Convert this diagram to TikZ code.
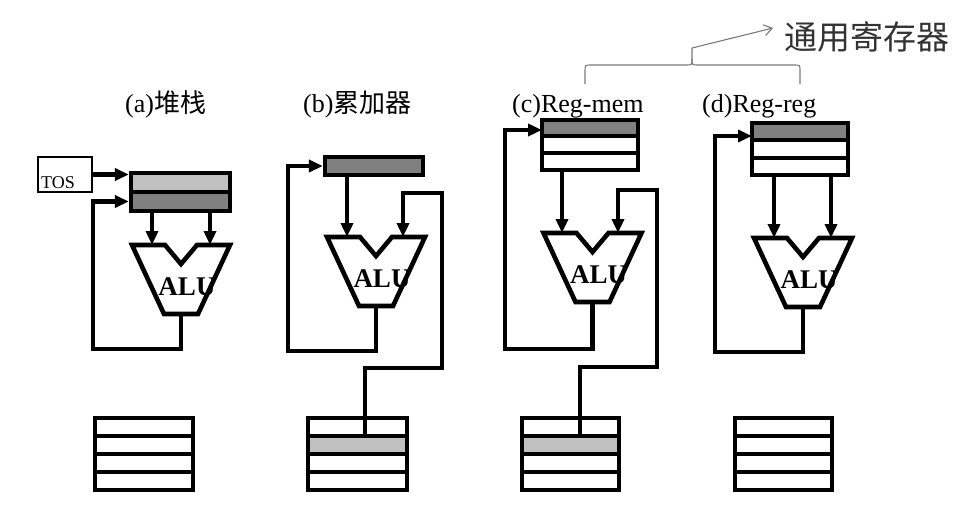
\documentclass[tikz,border=0pt]{standalone}
\usepackage{fontspec}
\setmainfont{Liberation Serif}
\newfontfamily\cjk{Noto Sans CJK SC}
\usetikzlibrary{arrows.meta}
\definecolor{lg}{HTML}{C0C0C0}
\definecolor{dg}{HTML}{808080}
\definecolor{bracegray}{HTML}{7A7A7A}
\tikzset{
  wire/.style={line width=4.6pt},
  arr/.style={line width=4.6pt, -{Triangle[length=14pt,width=12pt]}},
  cellbox/.style={draw, line width=4.3pt, inner sep=0pt},
  lab/.style={anchor=base west, inner sep=0pt, font=\fontsize{26}{26}\selectfont},
  alutext/.style={anchor=base, inner sep=0pt, font=\fontsize{27}{27}\selectfont\bfseries},
  bracestyle/.style={draw=bracegray, line width=1.1pt},
}
% cell: name, x1, y1, x2, y2, fill
\newcommand\mycell[6]{%
  \node[cellbox, fill=#6, minimum width={(#4-#2)*1pt}, minimum height={(#5-#3)*1pt}]
    (#1) at ({(#2+#4)/2},{(#3+#5)/2}) {};}
% alu: name, cx, top, left input offset, right input offset
\newcommand\myalu[5]{%
  \node[alutext] (#1t) at ({#2+6},{#3+50}) {ALU};
  \draw[wire] ({#2-49},#3) -- ({#2-16},#3) -- (#2,{#3+19}) -- ({#2+16},#3) -- ({#2+49},#3)
     -- ({#2+17},{#3+69}) -- ({#2-17},{#3+69}) -- cycle;
  \coordinate (#1o) at (#2,{#3+69});
  \coordinate (#1l) at ({#2+#4},#3);
  \coordinate (#1r) at ({#2+#5},#3);}
\begin{document}
\begin{tikzpicture}[x=1pt,y=-1pt]
\useasboundingbox (0,0) rectangle (973,508);
\fill[white] (0,0) rectangle (973,508);

% ---------- titles ----------
\node[lab] (la) at (125,113) {(a){\cjk 堆栈}};
\node[lab] (lb) at (303,113) {(b){\cjk 累加器}};
\node[lab] (lc) at (512,113) {(c)Reg-mem};
\node[lab] (ld) at (702,113) {(d)Reg-reg};

% ---------- brace + general registers ----------
\node[anchor=center, inner sep=0pt, text=black!80, font=\cjk\fontsize{33}{33}\selectfont] (gr) at (867,37) {通用寄存器};
\coordinate (ga) at (773,28);
\coordinate (gt) at (692,48);
\draw[bracestyle] (585,84) -- (585,71) .. controls (585,65) .. (591,65) -- (686,65)
   .. controls (692,65) .. (692,59) -- (gt);
\draw[bracestyle] (692,59) .. controls (692,65) .. (698,65) -- (794,65)
   .. controls (800,65) .. (800,71) -- (800,84);
\draw[bracestyle, -{Straight Barb[length=8pt,width=11pt]}] (gt) -- (ga);

% ---------- (a) stack ----------
\node[draw, line width=2.2pt, inner sep=0pt, minimum width=54pt, minimum height=35pt] (tos) at (65,174.5) {};
\node[anchor=base west, inner sep=0pt, font=\fontsize{18}{18}\selectfont] (tost) at (41,188) {TOS};
\mycell{a1}{131}{173}{230}{192}{lg}
\mycell{a2}{131}{192}{230}{211}{dg}
\myalu{aluA}{181}{245}{-29}{29}
\coordinate (fbA) at (93,349);
\draw[arr] (tos.east) -- (tos.east -| a1.west);
\draw[arr] (aluAo) -- (aluAo |- fbA) -- (fbA) -- (fbA |- a2.west) -- (a2.west);
\draw[arr] (a2.south -| aluAl) -- (aluAl);
\draw[arr] (a2.south -| aluAr) -- (aluAr);

% ---------- (b) accumulator ----------
\mycell{b1}{325}{157}{423}{175}{dg}
\myalu{aluB}{376}{237}{-29}{27}
\coordinate (fbB) at (288,351);
\draw[arr] (aluBo) -- (aluBo |- fbB) -- (fbB) -- (fbB |- b1.west) -- (b1.west);
\draw[arr] (b1.south -| aluBl) -- (aluBl);

% ---------- (c) reg-mem ----------
\mycell{c1}{542}{120}{638}{136}{dg}
\mycell{c2}{542}{136}{638}{153}{white}
\mycell{c3}{542}{153}{638}{170}{white}
\myalu{aluC}{592.5}{233}{-30.5}{25.5}
\coordinate (fbC) at (505,349);
\coordinate (cin) at (542,130);
\draw[arr] (aluCo) -- (aluCo |- fbC) -- (fbC) -- (fbC |- cin) -- (cin);
\draw[arr] (c3.south -| aluCl) -- (aluCl);

% ---------- (d) reg-reg ----------
\mycell{d1}{752}{123}{848}{140}{dg}
\mycell{d2}{752}{140}{848}{158}{white}
\mycell{d3}{752}{158}{848}{175}{white}
\myalu{aluD}{803}{238}{-29}{28}
\coordinate (fbD) at (715,352);
\coordinate (din) at (752,136);
\draw[arr] (aluDo) -- (aluDo |- fbD) -- (fbD) -- (fbD |- din) -- (din);
\draw[arr] (d3.south -| aluDl) -- (aluDl);
\draw[arr] (d3.south -| aluDr) -- (aluDr);

% ---------- memories ----------
\mycell{m1a}{95}{418}{193}{436}{white}
\mycell{m1b}{95}{436}{193}{454}{white}
\mycell{m1c}{95}{454}{193}{472}{white}
\mycell{m1d}{95}{472}{193}{490}{white}

\mycell{m2a}{308}{418}{407}{436}{white}
\mycell{m2b}{308}{436}{407}{454}{lg}
\mycell{m2c}{308}{454}{407}{472}{white}
\mycell{m2d}{308}{472}{407}{490}{white}

\mycell{m3a}{522}{418}{619}{436}{white}
\mycell{m3b}{522}{436}{619}{454}{lg}
\mycell{m3c}{522}{454}{619}{472}{white}
\mycell{m3d}{522}{472}{619}{490}{white}

\mycell{m4a}{735}{418}{832}{436}{white}
\mycell{m4b}{735}{436}{832}{454}{white}
\mycell{m4c}{735}{454}{832}{472}{white}
\mycell{m4d}{735}{472}{832}{490}{white}

% ---------- memory operand paths ----------
\coordinate (pb1) at (365,368);
\coordinate (pb2) at (442,368);
\coordinate (pb3) at (442,193);
\draw[arr] (m2a.south -| pb1) -- (pb1) -- (pb2) -- (pb3) -- (pb3 -| aluBr) -- (aluBr);

\coordinate (pc1) at (580,367);
\coordinate (pc2) at (657,367);
\coordinate (pc3) at (657,190);
\draw[arr] (m3a.south -| pc1) -- (pc1) -- (pc2) -- (pc3) -- (pc3 -| aluCr) -- (aluCr);
\end{tikzpicture}
\end{document}
